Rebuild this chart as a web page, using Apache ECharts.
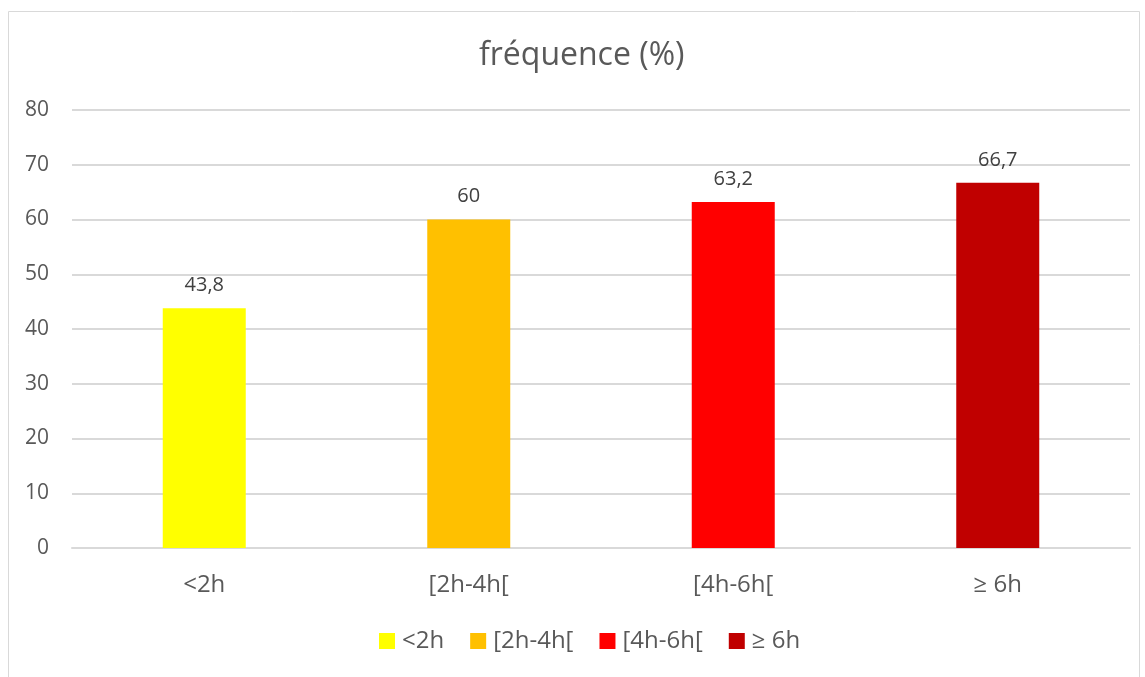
<!DOCTYPE html>
<html><head><meta charset="utf-8">
<script src="https://cdn.jsdelivr.net/npm/echarts@6/dist/echarts.min.js"></script>
<style>html,body{margin:0;padding:0;background:#fff}#c{width:1145px;height:677px}</style>
</head><body><div id="c"></div>
<script>
const categories = ['<2h', '[2h-4h[', '[4h-6h[', '≥ 6h'];
const values = [43.8, 60, 63.2, 66.7];
const colors = ['#FFFF00', '#FFC000', '#FF0000', '#C00000'];
const yTicks = [0, 10, 20, 30, 40, 50, 60, 70, 80];

const FONT = '"Open Sans", Lato, sans-serif';
const chart = echarts.init(document.getElementById('c'));
const series = categories.map((name, i) => ({
  name: name,
  type: 'bar',
  barWidth: 83,
  barGap: '-100%',
  itemStyle: { color: colors[i] },
  data: categories.map((c, j) => j === i ? values[i] : '-'),
  label: {
    show: true, position: 'top', distance: 13,
    color: '#404040', fontSize: 20, fontFamily: FONT,
    formatter: p => String(p.value).replace('.', ',')
  }
}));
chart.setOption({
  animation: false,
  graphic: [{ type: 'rect', shape: { x: 8.5, y: 11.5, width: 1131, height: 700 },
    style: { fill: 'none', stroke: '#d9d9d9', lineWidth: 1 }, silent: true }],
  title: { text: 'fréquence (%)', left: 474, top: 35,
    textStyle: { color: '#595959', fontSize: 32, fontWeight: 'normal', fontFamily: FONT } },
  legend: { bottom: 19, left: 374, itemWidth: 16, itemHeight: 16, itemGap: 26,
    icon: 'rect', textStyle: { color: '#595959', fontSize: 24, fontFamily: FONT, padding: [0, 0, 0, 2] },
    data: categories },
  grid: { left: 72, right: 15, top: 110, bottom: 129 },
  xAxis: { type: 'category', data: categories,
    axisLine: { lineStyle: { color: '#d9d9d9', width: 2 } }, axisTick: { show: false },
    axisLabel: { color: '#595959', fontSize: 24, fontFamily: FONT, margin: 25 } },
  yAxis: { type: 'value', min: yTicks[0], max: yTicks[yTicks.length - 1], interval: 10,
    axisLine: { show: false }, axisTick: { show: false },
    splitLine: { lineStyle: { color: '#d9d9d9', width: 2 } },
    axisLabel: { color: '#595959', fontSize: 21, fontFamily: FONT, margin: 23 } },
  series: series
});
</script></body></html>
